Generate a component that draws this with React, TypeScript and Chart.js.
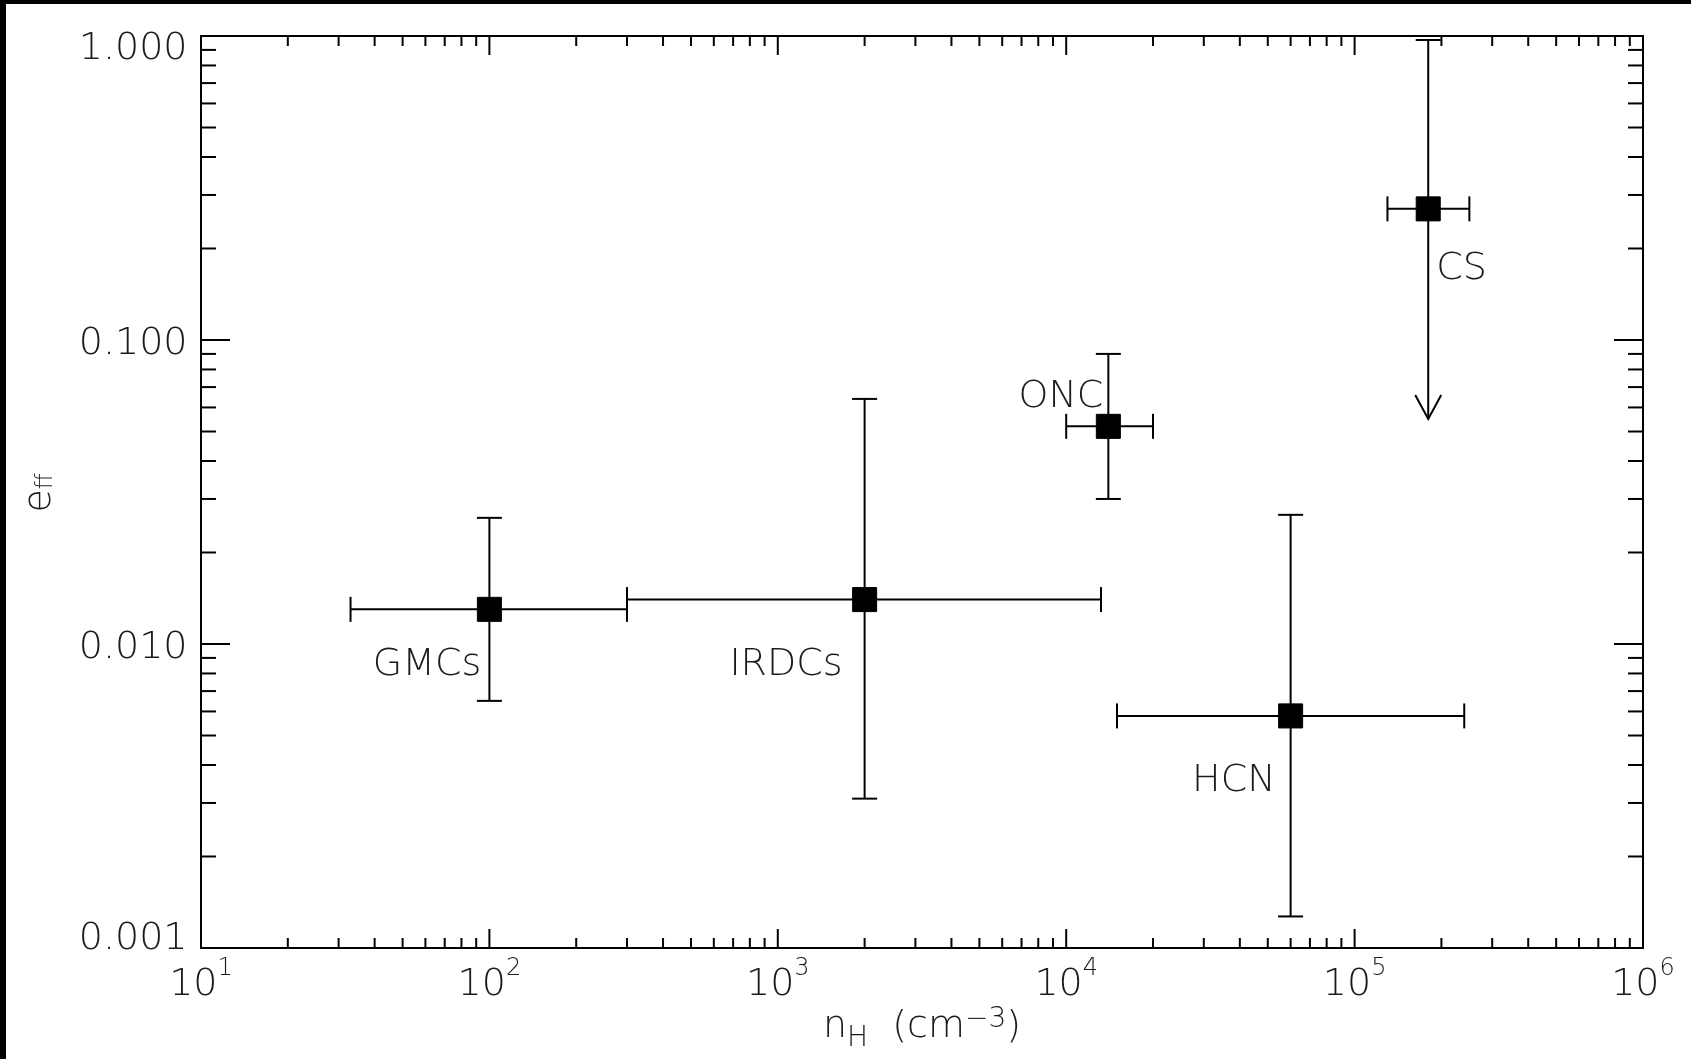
import React, { useEffect, useRef } from "react";
import { Chart, registerables } from "chart.js";

Chart.register(...registerables);

// ---------------- data ----------------
const names = ["GMCs", "IRDCs", "ONC", "HCN", "CS"];
const density = [100, 2000, 14000, 60000, 180000];
const densityLow = [33, 300, 10000, 15000, 130000];
const densityHigh = [300, 13200, 20000, 240000, 250000];
const eff = [0.013, 0.014, 0.052, 0.0058, 0.27];
const effLow = [0.0065, 0.0031, 0.03, 0.00127, 0.055];
const effHigh = [0.026, 0.064, 0.09, 0.0266, 0.97];
const isUpperLimit = [false, false, false, false, true];

const xTickExponents = [1, 2, 3, 4, 5, 6];
const yTickValues = [0.001, 0.01, 0.1, 1];
const yTickLabels = ["0.001", "0.010", "0.100", "1.000"];

// ---------------- styles ----------------
const FAMILY = '"DejaVu Sans"';
const WEIGHT = "200";
const TEXT_COLOR = "#1c1c1c";
const font = (px: number) => `${WEIGHT} ${px}px ${FAMILY}`;
// label placement relative to the marker: [dx, dy, align]
const labelOffsets: [number, number, CanvasTextAlign][] = [
  [-8, 66, "right"],
  [-22, 75, "right"],
  [-5, -19, "right"],
  [-15, 75, "right"],
  [8, 70, "left"],
];

type Run = { text: string; size: number; dy: number };

function runsWidth(ctx: CanvasRenderingContext2D, runs: Run[]) {
  let w = 0;
  for (const r of runs) {
    ctx.font = font(r.size);
    w += ctx.measureText(r.text).width;
  }
  return w;
}
function drawRuns(ctx: CanvasRenderingContext2D, runs: Run[], x0: number, base: number) {
  let x = x0;
  ctx.textAlign = "left";
  ctx.textBaseline = "alphabetic";
  for (const r of runs) {
    ctx.font = font(r.size);
    ctx.fillText(r.text, x, base + r.dy);
    x += ctx.measureText(r.text).width;
  }
}

const idlPlugin = {
  id: "idlFrame",
  beforeDatasetsDraw(chart: any) {
    const { ctx, chartArea: a, scales } = chart;
    const xs = scales.x;
    const ys = scales.y;
    ctx.save();
    ctx.strokeStyle = "#000";
    ctx.lineWidth = 2;
    ctx.lineCap = "butt";
    const line = (x1: number, y1: number, x2: number, y2: number) => {
      ctx.beginPath();
      ctx.moveTo(x1, y1);
      ctx.lineTo(x2, y2);
      ctx.stroke();
    };
    // frame
    ctx.strokeRect(a.left, a.top, a.right - a.left, a.bottom - a.top);
    // x ticks
    for (let e = 1; e < 6; e++) {
      for (let m = 1; m < 10; m++) {
        const px = xs.getPixelForValue(m * Math.pow(10, e));
        const len = m === 1 ? 19 : 10;
        line(px, a.bottom, px, a.bottom - len);
        line(px, a.top, px, a.top + len);
      }
    }
    // y ticks
    for (let e = -3; e < 0; e++) {
      for (let m = 1; m < 10; m++) {
        const py = ys.getPixelForValue(m * Math.pow(10, e));
        const len = m === 1 ? 29 : 15;
        line(a.left, py, a.left + len, py);
        line(a.right, py, a.right - len, py);
      }
    }
    // error bars
    const cap = 12.5;
    for (let i = 0; i < density.length; i++) {
      const px = xs.getPixelForValue(density[i]);
      const py = ys.getPixelForValue(eff[i]);
      const xl = xs.getPixelForValue(densityLow[i]);
      const xh = xs.getPixelForValue(densityHigh[i]);
      const yl = ys.getPixelForValue(effLow[i]);
      const yh = ys.getPixelForValue(effHigh[i]);
      line(xl, py, xh, py);
      line(xl, py - cap, xl, py + cap);
      line(xh, py - cap, xh, py + cap);
      line(px, yh, px, yl);
      line(px - cap, yh, px + cap, yh);
      if (isUpperLimit[i]) {
        ctx.beginPath();
        ctx.moveTo(px - 13, yl - 24);
        ctx.lineTo(px, yl);
        ctx.lineTo(px + 13, yl - 24);
        ctx.stroke();
      } else {
        line(px - cap, yl, px + cap, yl);
      }
    }
    ctx.restore();
  },
  afterDraw(chart: any) {
    const { ctx, chartArea: a, scales } = chart;
    const xs = scales.x;
    const ys = scales.y;
    ctx.save();
    ctx.fillStyle = TEXT_COLOR;

    // y tick labels
    ctx.font = font(38);
    ctx.textAlign = "right";
    ctx.textBaseline = "alphabetic";
    yTickValues.forEach((v, i) => {
      const py = ys.getPixelForValue(v);
      const c = Math.min(Math.max(py, a.top + 9.5), a.bottom - 13);
      ctx.fillText(yTickLabels[i], a.left - 13.5, c + 13.8);
    });

    // x tick labels 10^n
    xTickExponents.forEach((e) => {
      const px = xs.getPixelForValue(Math.pow(10, e));
      const runs: Run[] = [
        { text: "10", size: 38, dy: 0 },
        { text: String(e), size: 24, dy: -20 },
      ];
      const w = runsWidth(ctx, runs);
      drawRuns(ctx, runs, px - w / 2, a.bottom + 47);
    });

    // x title
    const xt: Run[] = [
      { text: "n", size: 38, dy: 0 },
      { text: "H", size: 28, dy: 9.5 },
      { text: "  (cm", size: 38, dy: 0 },
      { text: "\u22123", size: 28, dy: -10 },
      { text: ")", size: 38, dy: 0 },
    ];
    const xtw = runsWidth(ctx, xt);
    drawRuns(ctx, xt, (a.left + a.right) / 2 - xtw / 2, a.bottom + 88.7);

    // y title (rotated)
    const yt: Run[] = [
      { text: "e", size: 38, dy: 0 },
      { text: "ff", size: 23, dy: 2 },
    ];
    const ytw = runsWidth(ctx, yt);
    ctx.save();
    ctx.translate(44, (a.top + a.bottom) / 2 + 1);
    ctx.rotate(-Math.PI / 2);
    drawRuns(ctx, yt, -ytw / 2, 0);
    ctx.restore();

    // point labels
    ctx.font = font(38);
    ctx.textBaseline = "alphabetic";
    names.forEach((n, i) => {
      const px = xs.getPixelForValue(density[i]);
      const py = ys.getPixelForValue(eff[i]);
      const [dx, dy, al] = labelOffsets[i];
      ctx.textAlign = al;
      ctx.fillText(n, px + dx, py + dy);
    });
    ctx.restore();
  },
};

export default function App() {
  const ref = useRef<HTMLCanvasElement | null>(null);
  useEffect(() => {
    if (!ref.current) return;
    const chart = new Chart(ref.current, {
      type: "scatter",
      data: {
        datasets: [
          {
            label: "e_ff",
            data: density.map((d, i) => ({ x: d, y: eff[i] })),
            pointStyle: "rect",
            pointRadius: 17,
            pointHoverRadius: 17,
            backgroundColor: "#000",
            borderColor: "#000",
            borderWidth: 1,
            showLine: false,
          },
        ],
      },
      options: {
        animation: false,
        responsive: false,
        maintainAspectRatio: false,
        devicePixelRatio: 1,
        layout: { padding: { left: 195, top: 32, right: 48, bottom: 111 } },
        plugins: { legend: { display: false }, tooltip: { enabled: false } },
        scales: {
          x: { type: "logarithmic", min: 10, max: 1e6, display: false },
          y: { type: "logarithmic", min: 0.001, max: 1, display: false },
        },
      },
      plugins: [idlPlugin],
    } as any);
    return () => chart.destroy();
  }, []);

  return (
    <div style={{ position: "fixed", inset: 0, background: "#000" }}>
      <div
        style={{
          position: "absolute",
          left: 6,
          top: 4,
          width: 1685,
          height: 1055,
          background: "#fff",
        }}
      >
        <canvas
          ref={ref}
          width={1685}
          height={1055}
          style={{ display: "block", width: 1685, height: 1055 }}
        />
      </div>
    </div>
  );
}
